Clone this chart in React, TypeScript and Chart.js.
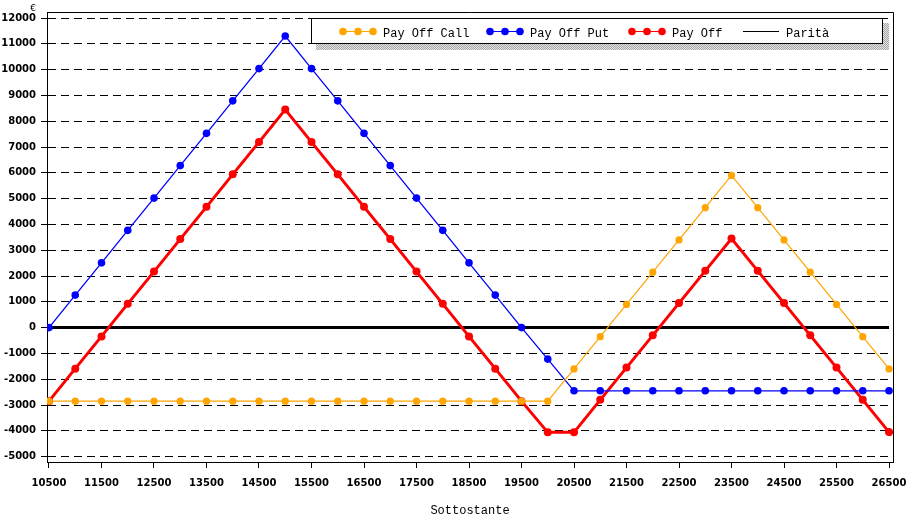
import React, { useEffect, useRef } from 'react';
import Chart from 'chart.js/auto';

// Sottostante (asse x), un punto ogni 500
const underlying = [
  10500, 11000, 11500, 12000, 12500, 13000, 13500, 14000, 14500, 15000, 15500,
  16000, 16500, 17000, 17500, 18000, 18500, 19000, 19500, 20000, 20500, 21000,
  21500, 22000, 22500, 23000, 23500, 24000, 24500, 25000, 25500, 26000, 26500,
];

const payOffCall = [
  -2850, -2850, -2850, -2850, -2850, -2850, -2850, -2850, -2850, -2850, -2850,
  -2850, -2850, -2850, -2850, -2850, -2850, -2850, -2850, -2850, -1600, -350,
  900, 2150, 3400, 4650, 5900, 4650, 3400, 2150, 900, -350, -1600,
];

const payOffPut = [
  0, 1260, 2510, 3770, 5020, 6280, 7530, 8790, 10040, 11300, 10040,
  8790, 7530, 6280, 5020, 3770, 2510, 1260, 0, -1220, -2450, -2450,
  -2450, -2450, -2450, -2450, -2450, -2450, -2450, -2450, -2450, -2450, -2450,
];

const payOff = [
  -2850, -1590, -340, 920, 2170, 3430, 4680, 5940, 7190, 8450, 7190,
  5940, 4680, 3430, 2170, 920, -340, -1590, -2850, -4060, -4060, -2800,
  -1550, -300, 950, 2200, 3450, 2200, 950, -300, -1550, -2800, -4050,
];

// linea di parità, dal primo all'ultimo valore del sottostante
const parita = [0, 0];

const xTicks = [
  10500, 11500, 12500, 13500, 14500, 15500, 16500, 17500, 18500, 19500, 20500,
  21500, 22500, 23500, 24500, 25500, 26500,
];

const yTicks = [
  -5000, -4000, -3000, -2000, -1000, 0, 1000, 2000, 3000, 4000, 5000, 6000,
  7000, 8000, 9000, 10000, 11000, 12000,
];

const seriesLabels = ['Pay Off Call', 'Pay Off Put', 'Pay Off', 'Parità'];
const seriesColors = ['#FFA500', '#0000FF', '#FF0000', '#000000'];

const TEXT_FONT = '12px "Liberation Mono"';

// cornice, legenda col riquadro ombreggiato, titolo asse x e simbolo €
const decorPlugin = {
  id: 'decor',
  afterDraw(chart: any) {
    const { ctx, chartArea: a } = chart;
    ctx.save();

    // bordo superiore e destro dell'area del grafico
    ctx.strokeStyle = '#000';
    ctx.lineWidth = 1;
    ctx.beginPath();
    ctx.moveTo(a.left, a.top + 0.5);
    ctx.lineTo(a.right + 0.5, a.top + 0.5);
    ctx.lineTo(a.right + 0.5, a.bottom);
    ctx.stroke();

    // legenda con ombra retinata
    const dots = document.createElement('canvas');
    dots.width = 2;
    dots.height = 2;
    const dctx = dots.getContext('2d');
    if (dctx) {
      dctx.fillStyle = '#e4e4e4';
      dctx.fillRect(0, 0, 2, 2);
      dctx.fillStyle = '#a8a8a8';
      dctx.fillRect(0, 0, 1, 1);
      dctx.fillRect(1, 1, 1, 1);
    }
    ctx.fillStyle = ctx.createPattern(dots, 'repeat') || '#c6c6c6';
    ctx.fillRect(316, 23, 573, 27);
    ctx.fillStyle = '#fff';
    ctx.fillRect(311, 18, 571, 25);
    ctx.strokeStyle = '#000';
    ctx.strokeRect(311.5, 18.5, 571, 25);

    const itemX = [343, 490, 632, 743];
    const midY = 31;
    ctx.font = TEXT_FONT;
    ctx.textBaseline = 'alphabetic';
    ctx.textAlign = 'left';
    seriesLabels.forEach((label, i) => {
      const x = itemX[i];
      const color = seriesColors[i];
      const isLine = i === 3;
      const w = isLine ? 36 : 30;
      ctx.strokeStyle = color;
      ctx.lineWidth = 1;
      ctx.beginPath();
      ctx.moveTo(x, midY + 0.5);
      ctx.lineTo(x + w, midY + 0.5);
      ctx.stroke();
      if (!isLine) {
        ctx.fillStyle = color;
        [0, 15, 30].forEach((dx) => {
          ctx.beginPath();
          ctx.arc(x + dx, midY + 0.5, 3.8, 0, Math.PI * 2);
          ctx.fill();
        });
      }
      ctx.fillStyle = '#000';
      ctx.fillText(label, x + w + (isLine ? 7 : 10), 37);
    });

    // titolo asse x
    ctx.textAlign = 'center';
    ctx.fillText('Sottostante', (a.left + a.right) / 2, 514);

    // unità asse y
    ctx.font = '9px "DejaVu Sans"';
    ctx.fillText('€', 33, 11);

    ctx.restore();
  },
};

const tickFont = { family: '"DejaVu Sans"', weight: 'bold' as const, size: 10 };

export default function App() {
  const chartRef = useRef<HTMLCanvasElement>(null);
  const chartInstance = useRef<Chart | null>(null);

  useEffect(() => {
    if (!chartRef.current) return;
    const ctx = chartRef.current.getContext('2d');
    if (!ctx) return;

    if (chartInstance.current) {
      chartInstance.current.destroy();
    }

    const toPoints = (values: number[]) => values.map((y, i) => ({ x: underlying[i], y }));
    const last = underlying.length - 1;

    chartInstance.current = new Chart(ctx, {
      type: 'line',
      data: {
        datasets: [
          {
            label: seriesLabels[0],
            data: toPoints(payOffCall),
            borderColor: seriesColors[0],
            backgroundColor: seriesColors[0],
            borderWidth: 1.2,
            pointRadius: 3.6,
            pointBorderWidth: 0,
            pointBackgroundColor: seriesColors[0],
          },
          {
            label: seriesLabels[1],
            data: toPoints(payOffPut),
            borderColor: seriesColors[1],
            backgroundColor: seriesColors[1],
            borderWidth: 1.3,
            pointRadius: 3.8,
            pointBorderWidth: 0,
            pointBackgroundColor: seriesColors[1],
          },
          {
            label: seriesLabels[2],
            data: toPoints(payOff),
            borderColor: seriesColors[2],
            backgroundColor: seriesColors[2],
            borderWidth: 3,
            pointRadius: 4,
            pointBorderWidth: 0,
            pointBackgroundColor: seriesColors[2],
          },
          {
            label: seriesLabels[3],
            data: [
              { x: underlying[0], y: parita[0] },
              { x: underlying[last], y: parita[1] },
            ],
            borderColor: seriesColors[3],
            backgroundColor: seriesColors[3],
            borderWidth: 3,
            pointRadius: 0,
          },
        ],
      },
      options: {
        animation: false,
        responsive: false,
        layout: { padding: { left: 0, top: 12, right: 19, bottom: 0 } },
        plugins: {
          legend: { display: false },
          tooltip: { enabled: false },
        },
        scales: {
          x: {
            type: 'linear',
            min: 10462,
            max: 26576,
            afterBuildTicks: (scale: any) => {
              scale.ticks = xTicks.map((value) => ({ value }));
            },
            afterFit: (scale: any) => {
              scale.height = 59;
              scale.paddingLeft = 0;
              scale.paddingRight = 0;
            },
            grid: { drawOnChartArea: false, drawTicks: true, tickLength: 6, color: '#000' },
            border: { color: '#000', width: 1 },
            ticks: {
              color: '#000',
              font: tickFont,
              padding: 9,
              maxRotation: 0,
              autoSkip: false,
              callback: (v: any) => String(v),
            },
          },
          y: {
            type: 'linear',
            min: -5209,
            max: 12233,
            afterBuildTicks: (scale: any) => {
              scale.ticks = yTicks.map((value) => ({ value }));
            },
            afterFit: (scale: any) => {
              scale.width = 47;
              scale.paddingTop = 0;
              scale.paddingBottom = 0;
            },
            grid: { color: '#000', lineWidth: 1, tickLength: 6 },
            border: { color: '#000', width: 1, dash: [8, 5] },
            ticks: {
              color: '#000',
              font: tickFont,
              padding: 5,
              autoSkip: false,
              callback: (v: any) => String(v),
            },
          },
        },
      },
      plugins: [decorPlugin],
    });

    return () => {
      if (chartInstance.current) {
        chartInstance.current.destroy();
        chartInstance.current = null;
      }
    };
  }, []);

  return (
    <div style={{ position: 'fixed', left: 0, top: 0, width: 912, height: 521, background: '#fff' }}>
      <canvas ref={chartRef} width={912} height={521}></canvas>
    </div>
  );
}
